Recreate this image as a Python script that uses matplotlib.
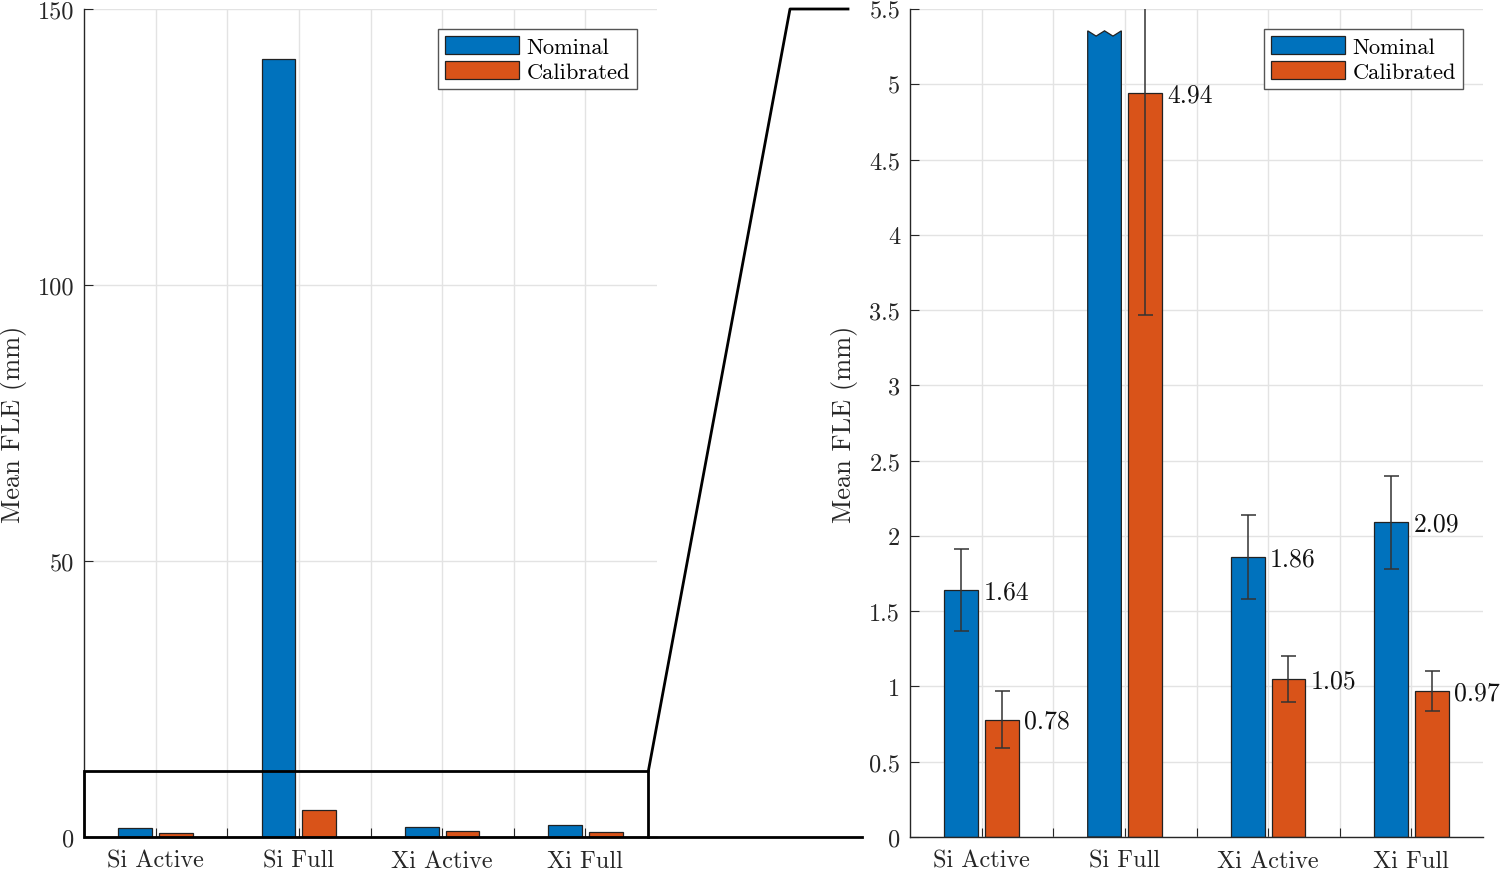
import numpy as np
import matplotlib
matplotlib.use("Agg")
import matplotlib.pyplot as plt
from matplotlib.patches import Polygon, Rectangle
from matplotlib.lines import Line2D
from matplotlib.ticker import FixedLocator, FuncFormatter

# ---------------- data ----------------
categories = ["Si Active", "Si Full", "Xi Active", "Xi Full"]
series_names = ["Nominal", "Calibrated"]
nominal = [1.64, 140.9, 1.86, 2.09]
calibrated = [0.78, 4.94, 1.05, 0.97]
nominal_err = [0.27, np.nan, 0.28, 0.31]
calibrated_err = [0.19, 1.47, 0.15, 0.13]
left_yticks = [0, 50, 100, 150]
right_yticks = [0, 0.5, 1, 1.5, 2, 2.5, 3, 3.5, 4, 4.5, 5, 5.5]
zoom_ylim = 12  # zoom box height on the left panel
break_level = 5.355  # where the off-scale bar is cut on the right panel

# ---------------- style ----------------
plt.rcParams["font.family"] = ["cmr10", "DejaVu Serif"]
plt.rcParams["axes.formatter.use_mathtext"] = True
FS = 17.5
BLUE = "#0072BD"
ORANGE = "#D95319"
TXT = "#262626"
GRID = "#E3E3E3"

W, H = 1500, 870
fig = plt.figure(figsize=(15, 8.7), dpi=100)

def px_axes(x0, x1, y0, y1):
    return fig.add_axes([x0 / W, 1 - y1 / H, (x1 - x0) / W, (y1 - y0) / H])

axL = px_axes(84, 657, 10, 838)
axR = px_axes(910, 1483, 10, 838)

x = np.arange(1, len(categories) + 1)
offset = 0.142
bw = 0.235

def style_axes(ax, ylim, yticks, fmt, handles):
    ax.set_xlim(0.5, len(categories) + 0.5)
    ax.set_ylim(*ylim)
    ax.set_axisbelow(True)
    ax.xaxis.set_major_locator(FixedLocator(x))
    ax.xaxis.set_minor_locator(FixedLocator(x[:-1] + 0.5))
    ax.set_xticklabels(categories)
    ax.set_yticks(yticks)
    ax.yaxis.set_major_formatter(FuncFormatter(fmt))
    ax.grid(True, which="both", color=GRID, lw=1.0)
    for s in ["top", "right"]:
        ax.spines[s].set_visible(False)
    for s in ["left", "bottom"]:
        ax.spines[s].set_color(TXT)
        ax.spines[s].set_linewidth(1.0)
    ax.tick_params(which="both", direction="in", length=6.5, width=0.8,
                   color=TXT, labelcolor=TXT, labelsize=FS)
    ax.tick_params(axis="x", which="both", pad=9)
    ax.tick_params(axis="y", pad=7)
    ax.set_ylabel("Mean FLE (mm)", fontsize=19, color=TXT)
    leg = ax.legend(handles, series_names, loc="upper right",
                    bbox_to_anchor=(1 - 20 / 573, 1 - 20 / 828),
                    borderaxespad=0, fancybox=False, fontsize=16.2,
                    handlelength=3.3, handleheight=0.85, handletextpad=0.35,
                    borderpad=0.3, labelspacing=0.22, framealpha=1)
    leg.get_frame().set_edgecolor("#555555")
    leg.get_frame().set_linewidth(1.0)

# ---------------- left panel ----------------
bL1 = axL.bar(x - offset, nominal, bw, color=BLUE, edgecolor="#222222", lw=0.9, zorder=2)
bL2 = axL.bar(x + offset, calibrated, bw, color=ORANGE, edgecolor="#222222", lw=0.9, zorder=2)
style_axes(axL, (0, 150), left_yticks, lambda v, p: f"{v:g}", [bL1, bL2])
axL.yaxis.set_label_coords(-57 / 573, 0.5)

# zoom rectangle on the left panel
x_rect_right = 4.44
axL.add_patch(Rectangle((0.5, 0), x_rect_right - 0.5, zoom_ylim, fill=False,
                        edgecolor="black", lw=2.0, zorder=5, clip_on=False))

# ---------------- right panel ----------------
nom_vis = [min(v, break_level) for v in nominal]
barsN = axR.bar(x - offset, nom_vis, bw, color=BLUE, edgecolor="#222222", lw=0.9, zorder=2)
barsC = axR.bar(x + offset, calibrated, bw, color=ORANGE, edgecolor="#222222", lw=0.9, zorder=2)

# replace off-scale bar by a zig-zag truncated polygon
for b, v in zip(barsN, nominal):
    if v > break_level:
        x0, w = b.get_x(), b.get_width()
        notch = 0.035
        verts = [(x0, 0), (x0, break_level),
                 (x0 + w * 0.25, break_level - notch),
                 (x0 + w * 0.5, break_level),
                 (x0 + w * 0.75, break_level - notch),
                 (x0 + w, break_level), (x0 + w, 0)]
        b.set_visible(False)
        axR.add_patch(Polygon(verts, closed=True, facecolor=BLUE,
                              edgecolor="#222222", lw=0.9, zorder=2))

axR.errorbar(x - offset, nominal, yerr=nominal_err, fmt="none", ecolor="#333333",
             elinewidth=1.1, capsize=5.4, capthick=1.1, zorder=4)
axR.errorbar(x + offset, calibrated, yerr=calibrated_err, fmt="none", ecolor="#333333",
             elinewidth=1.1, capsize=5.4, capthick=1.1, zorder=4)

for xs, vals in [(x - offset, nominal), (x + offset, calibrated)]:
    for xi, v in zip(xs, vals):
        if v <= 5.5:
            axR.annotate(f"{v:.2f}", (xi + bw / 2, v), xytext=(4, -1),
                         textcoords="offset points", ha="left", va="center",
                         fontsize=18.5, color="#111111", zorder=6)

style_axes(axR, (0, 5.5), right_yticks, lambda v, p: f"{v:g}", [barsN, barsC])
axR.yaxis.set_label_coords(-52 / 573, 0.5)

# ---------------- connector lines ----------------
fig.canvas.draw()
to_fig = fig.transFigure.inverted()
top_corner = to_fig.transform(axL.transData.transform((x_rect_right, zoom_ylim)))
bot_corner = to_fig.transform(axL.transData.transform((x_rect_right, 0)))
r_top = to_fig.transform(axR.transAxes.transform((0, 1)))
r_bot = to_fig.transform(axR.transAxes.transform((0, 0)))
kink_x = 790 / W
fig.add_artist(Line2D([top_corner[0], kink_x, r_top[0] - 62 / W],
                      [top_corner[1], r_top[1], r_top[1]],
                      color="black", lw=2.0, transform=fig.transFigure))
fig.add_artist(Line2D([bot_corner[0], r_bot[0] - 48 / W],
                      [bot_corner[1], r_bot[1]],
                      color="black", lw=2.0, transform=fig.transFigure))

fig.savefig("out.png", dpi=100)
